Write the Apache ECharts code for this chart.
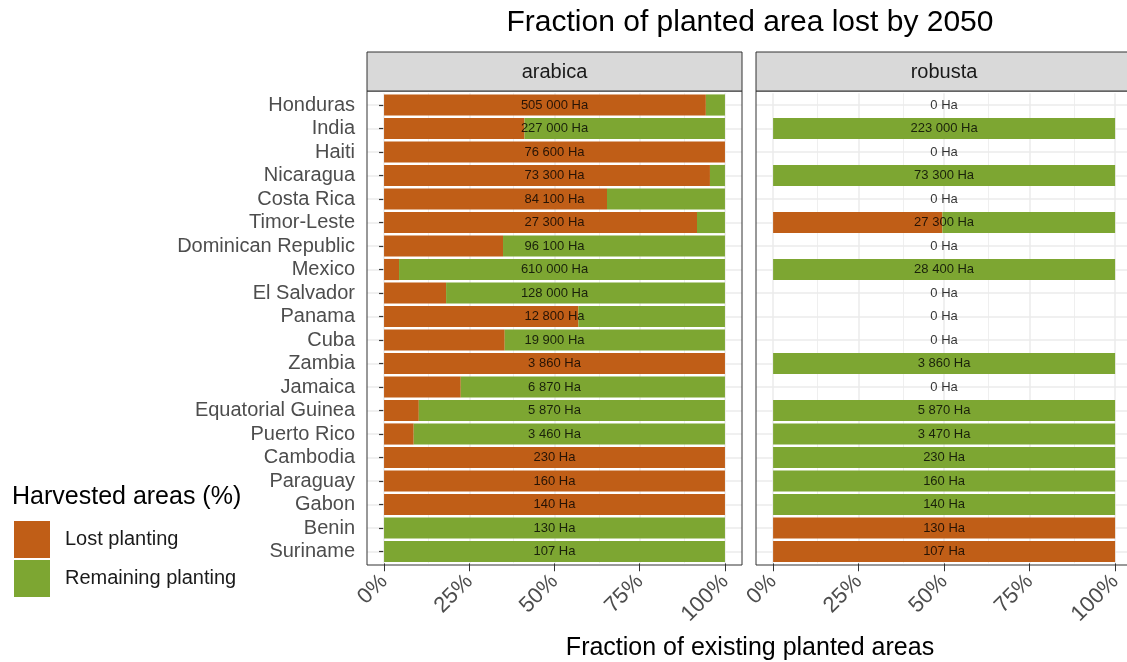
<!DOCTYPE html>
<html>
<head>
<meta charset="utf-8">
<script src="https://cdn.jsdelivr.net/npm/echarts@6/dist/echarts.min.js"></script>
<style>
html,body{margin:0;padding:0;background:#fff;}
#chart{width:1127px;height:662px;}
</style>
</head>
<body>
<div id="chart"></div>
<script>
var countries = ['Honduras','India','Haiti','Nicaragua','Costa Rica','Timor-Leste','Dominican Republic','Mexico','El Salvador','Panama','Cuba','Zambia','Jamaica','Equatorial Guinea','Puerto Rico','Cambodia','Paraguay','Gabon','Benin','Suriname'];

// fraction of arabica planted area lost
var arabicaLost = [0.944,0.412,1,0.956,0.654,0.918,0.349,0.044,0.182,0.570,0.354,1,0.225,0.102,0.087,1,1,1,0,0];
var arabicaRemaining = [0.056,0.588,0,0.044,0.346,0.082,0.651,0.956,0.818,0.430,0.646,0,0.775,0.898,0.913,0,0,0,1,1];
var arabicaArea = [505000,227000,76600,73300,84100,27300,96100,610000,128000,12800,19900,3860,6870,5870,3460,230,160,140,130,107];

// fraction of robusta planted area lost (null = no robusta)
var robustaLost = [null,0,null,0,null,0.495,null,0,null,null,null,0,null,0,0,0,0,0,1,1];
var robustaRemaining = [null,1,null,1,null,0.505,null,1,null,null,null,1,null,1,1,1,1,1,0,0];
var robustaArea = [0,223000,0,73300,0,27300,0,28400,0,0,0,3860,0,5870,3470,230,160,140,130,107];

var xTicks = [0,0.25,0.5,0.75,1];
var xMinor = [0.125,0.375,0.625,0.875];

var panels = ['arabica','robusta'];
var seriesNames = ['Lost planting','Remaining planting'];

var COL_LOST = '#C05E17';
var COL_REM = '#7DA632';
var FONT = 'Liberation Sans, Arial, Helvetica, sans-serif';

function fmtHa(v){
  var s = String(v).replace(/\B(?=(\d{3})+(?!\d))/g, ' ');
  return s + ' Ha';
}

var chart = echarts.init(document.getElementById('chart'));

var gridTop = 93.25, gridH = 470;
// robusta panel is cut by the right edge of the picture
var grids = [
  {left:367, top:gridTop, width:375, height:gridH},
  {left:756, top:gridTop, width:371, height:gridH}
];
var xMax = [1.05, 1.0348];

function xAxisDef(i){
  return {
    type:'value', gridIndex:i, min:-0.05, max:xMax[i],
    axisLine:{show:false},
    axisTick:{show:true, customValues:xTicks, length:8, lineStyle:{color:'#333333', width:1}},
    axisLabel:{show:true, customValues:xTicks, rotate:45, margin:15, fontSize:22, color:'#4D4D4D', fontFamily:FONT,
      formatter:function(v){return Math.round(v*100)+'%';}},
    splitLine:{show:false}
  };
}
function yAxisDef(i){
  return {
    type:'category', gridIndex:i, data:countries, inverse:true,
    axisLine:{show:false},
    axisTick:{show:i===0, interval:0, alignWithLabel:true, length:5, lineStyle:{color:'#333333', width:1.2}},
    axisLabel:{show:i===0, interval:0, fontSize:20, color:'#4D4D4D', fontFamily:FONT, margin:12},
    splitLine:{show:true, interval:0, alignWithLabel:true, lineStyle:{color:'#EBEBEB', width:1.5}}
  };
}

var gridLines = [];
xTicks.forEach(function(v){ gridLines.push({xAxis:v, lineStyle:{color:'#EBEBEB', width:1.5, type:'solid'}}); });
xMinor.forEach(function(v){ gridLines.push({xAxis:v, lineStyle:{color:'#EBEBEB', width:0.8, type:'solid'}}); });

var series = [];
[[arabicaLost, arabicaRemaining, arabicaArea],[robustaLost, robustaRemaining, robustaArea]].forEach(function(p, i){
  series.push({
    name:seriesNames[0], type:'bar', stack:'s'+i, xAxisIndex:i, yAxisIndex:i,
    data:p[0], barCategoryGap:'10%', itemStyle:{color:COL_LOST}, z:2,
    markLine:{silent:true, z:1, symbol:['none','none'], label:{show:false}, animation:false, data:gridLines}
  });
  series.push({
    name:seriesNames[1], type:'bar', stack:'s'+i, xAxisIndex:i, yAxisIndex:i,
    data:p[1], barCategoryGap:'10%', itemStyle:{color:COL_REM}, z:2
  });
  series.push({
    name:'label'+i, type:'scatter', xAxisIndex:i, yAxisIndex:i, z:5,
    symbol:'rect', symbolSize:1, itemStyle:{color:'rgba(0,0,0,0)'}, silent:true,
    labelLayout:{hideOverlap:false},
    data:countries.map(function(c){ return [0.5, c]; }),
    label:{show:true, position:'inside', color:'#000000', fontSize:13, fontFamily:FONT,
      formatter:(function(arr){ return function(pr){ return fmtHa(arr[pr.dataIndex]); }; })(p[2])}
  });
});

var option = {
  animation:false,
  textStyle:{fontFamily:FONT},
  grid:grids,
  xAxis:[xAxisDef(0), xAxisDef(1)],
  yAxis:[yAxisDef(0), yAxisDef(1)],
  legend:{
    data:seriesNames, orient:'vertical', left:9, top:516, itemWidth:36, itemHeight:37, itemGap:2,
    icon:'rect', textStyle:{fontSize:20, color:'#1A1A1A', fontFamily:FONT, padding:[0,0,0,10]},
    selectedMode:false
  },
  series:series,
  graphic:[
    {type:'rect', shape:{x:367, y:91, width:375, height:474}, style:{fill:'none', stroke:'#333333', lineWidth:1}, z:10, silent:true},
    {type:'rect', shape:{x:756, y:91, width:376, height:474}, style:{fill:'none', stroke:'#333333', lineWidth:1}, z:10, silent:true},
    {type:'rect', shape:{x:367, y:52, width:375, height:39}, style:{fill:'#D9D9D9', stroke:'#333333', lineWidth:1}, z:10, silent:true},
    {type:'rect', shape:{x:756, y:52, width:376, height:39}, style:{fill:'#D9D9D9', stroke:'#333333', lineWidth:1}, z:10, silent:true},
    {type:'text', x:554.5, y:72, z:11, silent:true, style:{text:panels[0], fontSize:20, fill:'#1A1A1A', fontFamily:FONT, textAlign:'center', textVerticalAlign:'middle'}},
    {type:'text', x:944, y:72, z:11, silent:true, style:{text:panels[1], fontSize:20, fill:'#1A1A1A', fontFamily:FONT, textAlign:'center', textVerticalAlign:'middle'}},
    {type:'text', x:750, y:23, z:11, silent:true, style:{text:'Fraction of planted area lost by 2050', fontSize:30, fill:'#000000', fontFamily:FONT, textAlign:'center', textVerticalAlign:'middle'}},
    {type:'text', x:750, y:648, z:11, silent:true, style:{text:'Fraction of existing planted areas', fontSize:25, fill:'#000000', fontFamily:FONT, textAlign:'center', textVerticalAlign:'middle'}},
    {type:'text', x:12, y:497, z:11, silent:true, style:{text:'Harvested areas (%)', fontSize:25, fill:'#000000', fontFamily:FONT, textAlign:'left', textVerticalAlign:'middle'}}
  ]
};
chart.setOption(option);
</script>
</body>
</html>
